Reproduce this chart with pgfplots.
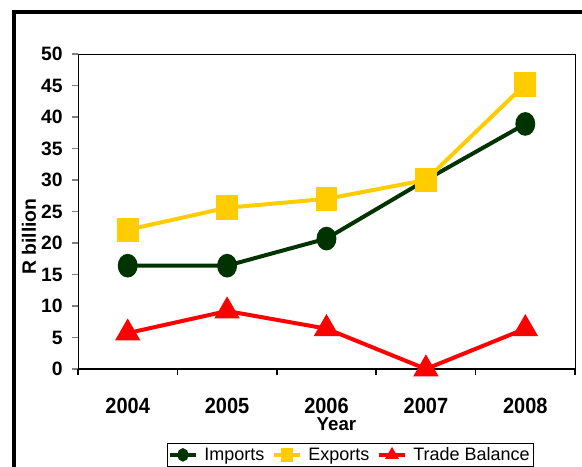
\documentclass[border=0pt]{standalone}
\usepackage{fontspec}
\setmainfont{Liberation Sans}
\usepackage{pgfplots}
\pgfplotsset{compat=1.18}

\definecolor{impgreen}{RGB}{0,51,0}
\definecolor{expyellow}{RGB}{255,204,0}
\definecolor{tbred}{RGB}{255,0,0}

\begin{document}
\begin{tikzpicture}
% picture is 582 x 467 px, 1 px = 0.75 pt
\useasboundingbox (0pt,0pt) rectangle (436.5pt,350.25pt);
\draw[line width=2.4pt] (10.5pt,-5pt) -- (10.5pt,341.25pt) -- (445pt,341.25pt);
\begin{axis}[
    at={(58.5pt,73.5pt)},
    anchor=origin,
    scale only axis,
    width=372.75pt,
    height=236.25pt,
    xmin=0.5, xmax=5.5,
    ymin=0, ymax=50,
    xtick={1,2,3,4,5},
    xticklabels={2004,2005,2006,2007,2008},
    x tick style={draw=none},
    extra x ticks={0.5,1.5,2.5,3.5,4.5,5.5},
    extra x tick labels={},
    extra x tick style={x tick style={draw=black, line width=1.2pt}},
    ytick={0,5,...,50},
    y tick style={line width=1.2pt},
    xtick pos=bottom,
    ytick pos=left,
    tick align=outside,
    major tick length=4.5pt,
    axis line style={line width=0.7pt},
    /pgf/number format/assume math mode=true,
    yticklabel style={font=\bfseries\fontsize{14.5}{15}\selectfont, xshift=-3.5pt},
    xticklabel style={font=\bfseries\fontsize{15}{16}\selectfont, yscale=1.1, yshift=-12pt},
    xlabel={Year},
    xlabel style={font=\bfseries\fontsize{14}{14}\selectfont, at={(axis description cs:0.52,0)}, anchor=center, yshift=-41.5pt},
    ylabel={R billion},
    ylabel style={font=\bfseries\fontsize{14.5}{14}\selectfont, at={(axis description cs:-0.0986,0.42)}, anchor=center},
    legend style={at={(0.548,-0.235)}, anchor=north, legend columns=3,
        draw=black, line width=0.5pt, font=\fontsize{13.5}{15}\selectfont,
        inner sep=1pt, column sep=3pt,
        /tikz/every even column/.append style={column sep=4pt}},
    legend image code/.code={
        \draw[mark repeat=2,mark phase=2,#1] plot coordinates {(0pt,0pt) (9.75pt,0pt) (19.5pt,0pt)};},
    legend image post style={mark size=3.5pt, line width=2.5pt},
    legend cell align=left,
]
\addplot[color=impgreen, line width=3pt, mark=*, mark size=7pt,
    mark options={xscale=0.85, yscale=1.05}] coordinates {
    (1,16.4) (2,16.4) (3,20.7) (4,30.0) (5,38.9)
};
\addlegendentry{Imports}
\addplot[color=expyellow, line width=3pt, mark=square*, mark size=7pt,
    mark options={xscale=0.95, yscale=1.1}] coordinates {
    (1,22.1) (2,25.6) (3,27.0) (4,30.0) (5,45.2)
};
\addlegendentry{Exports}
\addplot[color=tbred, line width=3pt, mark=triangle*, mark size=8pt] coordinates {
    (1,5.7) (2,9.2) (3,6.4) (4,0.0) (5,6.4)
};
\addlegendentry{Trade Balance}
\draw[line width=1.6pt] (rel axis cs:0,0) -- (rel axis cs:1,0);
\end{axis}
\end{tikzpicture}
\end{document}
